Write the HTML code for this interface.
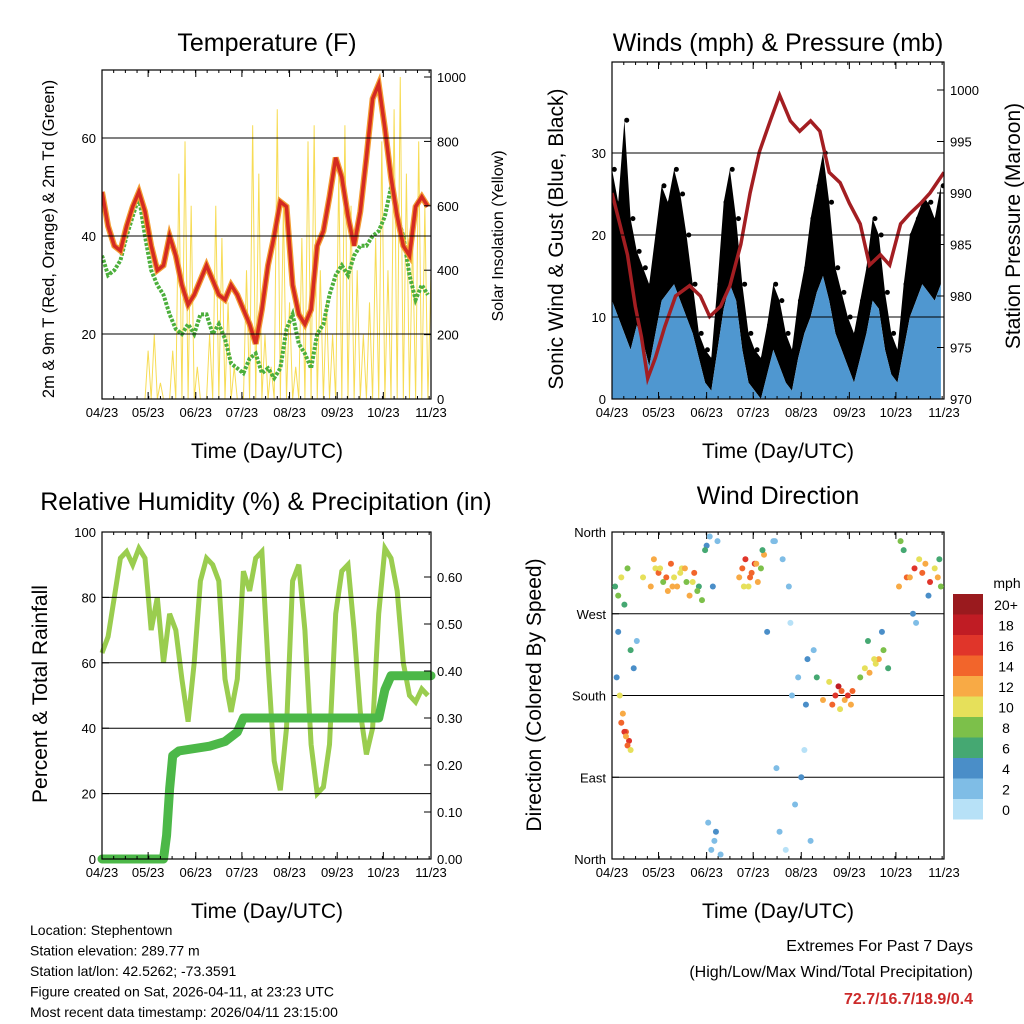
<!DOCTYPE html>
<html><head><meta charset="utf-8"><style>
body{margin:0;background:#fff;}
svg{display:block;font-family:"Liberation Sans",sans-serif;}
</style></head><body>
<svg id="s" width="1024" height="1024" viewBox="0 0 1024 1024"></svg>
<script>
// ---------- data ----------
const monthLabels=["04/23","05/23","06/23","07/23","08/23","09/23","10/23","11/23"];
const monthDays=[0,30,61,91,122,153,183,214];
const stepDays=[0,4,8,12,16,20,24,28,32,36,40,44,48,52,56,60,64,68,72,76,80,84,88,92,96,100,104,108,112,116,120,124,128,132,136,140,144,148,152,156,160,164,168,172,176,180,184,188,192,196,200,204,208,212];
const tempRed=[49,42,38,37,42,46,49,45,38,33,34,40,36,30,26,28,31,34,31,28,27,30,28,25,22,18,25,34,40,47,46,30,24,22,25,38,41,48,56,52,44,38,45,56,68,71,62,52,44,38,36,46,48,46];
const dewGreen=[36,32,33,35,40,44,48,40,33,30,28,24,21,20,22,20,24,24,20,22,19,14,13,12,15,16,12,13,11,13,21,24,18,16,13,20,22,28,32,34,32,36,38,38,40,41,44,50,44,40,32,27,30,28];
const solarPeak=[0,0,0,0,0,0,0,150,200,50,0,150,700,800,600,100,0,200,600,500,300,100,0,400,850,700,200,100,900,600,300,100,500,800,850,400,300,200,700,850,600,400,200,300,500,800,400,900,1000,700,500,800,600,400];
const presDays=[0,5,10,15,19,23,28,34,41,50,57,63,70,76,83,89,95,102,108,115,121,128,134,140,147,153,160,166,173,179,186,192,199,205,214];
const pressure=[990,987,984,979,976,972,974,977,980,981,980,978,979,981,985,990,994,997,999.5,997,996,997,996,992,991,989,987,983,984,983,987,988,989,990,992];
const windSpeed=[12,10,8,6,9,7,4,8,12,13,14,12,10,8,5,2,1,6,11,14,12,6,2,1,0,3,6,4,2,1,5,8,10,13,15,12,8,6,4,2,5,8,12,11,6,3,2,6,10,12,14,13,12,14];
const windGust=[28,24,34,22,18,16,14,20,26,24,28,25,20,14,8,6,5,14,24,28,22,14,8,6,5,9,14,12,8,6,12,16,22,26,30,24,16,13,10,8,12,16,22,20,13,8,6,14,20,22,24,24,22,26];
const rhValues=[63,68,80,92,94,90,95,92,70,80,60,75,70,55,42,60,85,92,90,85,55,45,55,88,82,92,94,60,30,21,40,85,90,70,35,20,22,35,75,88,90,70,45,32,40,75,95,92,82,60,50,48,52,50];
const rainDays=[0,40,42,44,46,50,70,80,88,92,180,184,188,214];
const rainTotal=[0,0,0.05,0.15,0.22,0.23,0.24,0.25,0.27,0.30,0.30,0.36,0.39,0.39];
const dirDays=[2,4,6,8,10,3,5,7,9,11,6,8,9,10,12,14,4,12,16,20,25,28,30,33,36,38,40,42,45,48,50,53,56,58,27,31,35,39,44,47,52,55,61,63,66,64,67,70,60,65,68,62,82,84,86,88,90,92,94,96,98,85,89,93,97,105,110,115,120,125,130,108,112,118,122,128,104,114,124,100,106,116,126,132,136,142,144,146,148,150,152,154,140,147,155,160,163,166,170,172,175,178,165,169,174,185,190,195,198,200,202,205,208,210,212,188,194,204,211,196,186,192];
const dirDeg=[300,290,310,280,320,200,180,160,140,130,150,140,135,125,120,210,250,230,240,310,300,320,315,305,295,325,310,300,320,305,290,315,300,285,330,320,310,300,315,320,305,295,345,355,20,10,30,5,340,300,350,40,310,320,330,300,315,325,305,320,335,300,310,325,340,350,330,260,200,170,230,30,10,60,90,20,350,300,120,250,100,180,220,200,175,170,180,190,185,175,180,170,195,165,185,200,210,205,215,220,230,210,240,220,250,300,310,320,330,315,325,305,320,310,300,340,270,290,330,260,350,310];
const dirSpeed=[6,8,9,6,7,4,9,11,14,15,13,16,12,14,10,3,4,5,2,9,12,10,14,8,11,13,9,12,10,7,11,13,6,8,12,10,14,11,9,12,10,8,3,2,1,2,3,1,5,4,2,1,12,14,16,10,13,15,11,8,12,9,14,11,6,1,2,0,2,3,1,1,0,2,3,1,2,1,0,4,2,1,3,5,12,14,16,18,13,11,15,12,10,9,14,8,10,12,9,11,7,6,6,10,4,12,14,16,10,13,11,15,9,12,8,6,4,3,5,2,7,11];
// ---------- helpers ----------
const S=document.getElementById('s');const NS='http://www.w3.org/2000/svg';
function mk(tag,attrs,parent){const e=document.createElementNS(NS,tag);for(const k in attrs)e.setAttribute(k,attrs[k]);(parent||S).appendChild(e);return e;}
function txt(x,y,str,size,anchor,parent,rot,fill,weight){const t=mk('text',{x:x,y:y,'font-size':size,'text-anchor':anchor||'middle',fill:fill||'#000'},parent);if(weight)t.setAttribute('font-weight',weight);if(rot)t.setAttribute('transform','rotate('+rot+' '+x+' '+y+')');t.textContent=str;return t;}
function lin(d0,d1,r0,r1){return v=>r0+(v-d0)/(d1-d0)*(r1-r0);}
function frame(g,L,T,R,B,xs){
  mk('rect',{x:L,y:T,width:R-L,height:B-T,fill:'none',stroke:'#000','stroke-width':1.2},g);
  monthDays.forEach((d,i)=>{const x=xs(d);mk('line',{x1:x,x2:x,y1:B,y2:B-7,stroke:'#000'},g);mk('line',{x1:x,x2:x,y1:T,y2:T+7,stroke:'#000'},g);
    const lb=txt(x,B+18,monthLabels[i],13,'middle',g);});
  for(let d=0;d<=214;d+=7.6){const x=xs(d);mk('line',{x1:x,x2:x,y1:B,y2:B-3,stroke:'#000'},g);mk('line',{x1:x,x2:x,y1:T,y2:T+3,stroke:'#000'},g);}
}
function yTicks(g,L,R,T,B,ys,vals,labels,side,grid,fmt){
  vals.forEach((v,i)=>{const y=ys(v);
    if(side==='left'){mk('line',{x1:L,x2:L+7,y1:y,y2:y,stroke:'#000'},g);const t=txt(L-6,y+5,labels?labels[i]:v,13,'end',g);
      if(grid&&y>T+2&&y<B-2)mk('line',{x1:L,x2:R,y1:y,y2:y,stroke:'#000','stroke-width':1},g);}
    else{mk('line',{x1:R,x2:R-7,y1:y,y2:y,stroke:'#000'},g);const t=txt(R+6,y+5,fmt?fmt(v):v,13,'start',g);}
  });
}
function poly(xa,ya,xs,ys){return xa.map((d,i)=>xs(d).toFixed(1)+','+ys(ya[i]).toFixed(1)).join(' ');}

// ---------- Panel 1: temperature ----------
(function(){
  const g=mk('g',{});
  const L=102,R=431,T=70,B=399;const xs=lin(0,214,L,R);const ys=lin(20,60,334,138);const ys2=lin(0,1000,399,77);
  const clip=mk('clipPath',{id:'c1'},g);mk('rect',{x:L,y:T,width:R-L,height:B-T},clip);
  const pg=mk('g',{'clip-path':'url(#c1)'},g);
  let d='';solarPeak.forEach((p,i)=>{const x0=xs(stepDays[i]),x1=xs(stepDays[i]+2),x2=xs(stepDays[i]+4);d+='M'+x0+','+ys2(0)+'L'+x1+','+ys2(p)+'L'+x2+','+ys2(0);});
  const sol=mk('path',{d:d,fill:'none',stroke:'#f7dc55','stroke-width':1},pg);
  const gr=mk('polyline',{points:poly(stepDays,dewGreen,xs,ys),fill:'none',stroke:'#4caf3c','stroke-width':4,'stroke-dasharray':'3,1.5'},pg);
  const or=mk('polyline',{points:poly(stepDays,tempRed,xs,ys),fill:'none',stroke:'#f39c33','stroke-width':6},pg);
  const rd=mk('polyline',{points:poly(stepDays,tempRed,xs,ys),fill:'none',stroke:'#d42a22','stroke-width':3.5},pg);
  frame(g,L,T,R,B,xs);
  yTicks(g,L,R,T,B,ys,[20,40,60],null,'left',true);
  yTicks(g,L,R,T,B,ys2,[0,200,400,600,800,1000],null,'right');
  const t=txt(267,51,'Temperature (F)',25,'middle',g);
  const a=txt(54,239,'2m & 9m T (Red, Orange) & 2m Td (Green)',16.5,'middle',g,-90);
  const b=txt(503,236,'Solar Insolation (Yellow)',16,'middle',g,-90);
  const c=txt(267,458,'Time (Day/UTC)',21,'middle',g);
})();

// ---------- Panel 2: winds ----------
(function(){
  const g=mk('g',{});
  const L=612,R=944,T=62,B=399;const xs=lin(0,214,L,R);const ys=lin(0,30,399,153);const ys2=lin(970,1000,399,90);
  const clip=mk('clipPath',{id:'c2'},g);mk('rect',{x:L,y:T,width:R-L,height:B-T},clip);
  const pg=mk('g',{'clip-path':'url(#c2)'},g);
  const gp=poly(stepDays,windGust,xs,ys)+' '+stepDays.slice().reverse().map((d,i)=>xs(d)+','+ys(windSpeed[windSpeed.length-1-i])).join(' ');
  const gb=mk('polygon',{points:gp,fill:'#000'},pg);
  stepDays.forEach((d,i)=>{const c=mk('circle',{cx:xs(d+1.5),cy:ys(windGust[i]),r:2.5,fill:'#000'},pg);});
  const bp=xs(0)+','+ys(0)+' '+poly(stepDays,windSpeed,xs,ys)+' '+xs(212)+','+ys(0);
  const ba=mk('polygon',{points:bp,fill:'#4f97d0'},pg);
  const pl=mk('polyline',{points:poly(presDays,pressure,xs,ys2),fill:'none',stroke:'#a31e22','stroke-width':3.5},pg);
  frame(g,L,T,R,B,xs);
  yTicks(g,L,R,T,B,ys,[0,10,20,30],null,'left',true);
  yTicks(g,L,R,T,B,ys2,[970,975,980,985,990,995,1000],null,'right');
  const t=txt(778,51,'Winds (mph) & Pressure (mb)',25,'middle',g);
  const a=txt(563,239,'Sonic Wind & Gust (Blue, Black)',21,'middle',g,-90);
  const b=txt(1020,226,'Station Pressure (Maroon)',21,'middle',g,-90);
  const c=txt(778,458,'Time (Day/UTC)',21,'middle',g);
})();

// ---------- Panel 3: RH ----------
(function(){
  const g=mk('g',{});
  const L=102,R=431,T=532,B=859;const xs=lin(0,214,L,R);const ys=lin(0,100,859,532);const ys2=lin(0,0.6,859,577);
  const clip=mk('clipPath',{id:'c3'},g);mk('rect',{x:L-6,y:T,width:R-L+12,height:B-T+6},clip);
  const pg=mk('g',{'clip-path':'url(#c3)'},g);
  const rh=mk('polyline',{points:poly(stepDays,rhValues,xs,ys),fill:'none',stroke:'#9acd4f','stroke-width':5},pg);
  let pts=[];rainDays.forEach((d,i)=>{pts.push(xs(d)+','+ys2(rainTotal[i]));});
  const rl=mk('polyline',{points:pts.join(' '),fill:'none',stroke:'#4cb848','stroke-width':9,'stroke-linejoin':'round','stroke-linecap':'round'},pg);
  frame(g,L,T,R,B,xs);
  yTicks(g,L,R,T,B,ys,[0,20,40,60,80,100],null,'left',true);
  yTicks(g,L,R,T,B,ys2,[0,0.1,0.2,0.3,0.4,0.5,0.6],null,'right',false,v=>v.toFixed(2));
  const t=txt(266,510,'Relative Humidity (%) & Precipitation (in)',25,'middle',g);
  const a=txt(47,694,'Percent & Total Rainfall',21,'middle',g,-90);
  const c=txt(267,918,'Time (Day/UTC)',21,'middle',g);
})();

// ---------- Panel 4: wind direction ----------
const speedColors=['#b7e1f7','#7fbde6','#4a8ec8','#45a872','#7cc04a','#e6e05a','#f8aa45','#f2652b','#e0352a','#c01c24','#9a1a1e'];
const speedLabels=['0','2','4','6','8','10','12','14','16','18','20+'];
(function(){
  const g=mk('g',{});
  const L=612,R=944,T=532,B=859;const xs=lin(0,214,L,R);const ys=lin(0,360,859,532);
  frame(g,L,T,R,B,xs);
  yTicks(g,L,R,T,B,ys,[0,90,180,270,360],['North','East','South','West','North'],'left',true);
  const clip=mk('clipPath',{id:'c4'},g);mk('rect',{x:L,y:T-4,width:R-L,height:B-T+8},clip);
  const pg=mk('g',{'clip-path':'url(#c4)'},g);
  dirDays.forEach((d,i)=>{const bin=Math.min(10,Math.round(dirSpeed[i]/2));
    const c=mk('circle',{cx:xs(d),cy:ys(dirDeg[i]),r:3,fill:speedColors[bin]},pg);});
  const t=txt(778,504,'Wind Direction',25,'middle',g);
  const a=txt(541,695,'Direction (Colored By Speed)',21,'middle',g,-90);
  const c=txt(778,918,'Time (Day/UTC)',21,'middle',g);
  const cb=mk('g',{},g);
  txt(1007,588,'mph',14,'middle',cb);
  for(let i=0;i<11;i++){const y=594+(10-i)*20.5;const r=mk('rect',{x:953,y:y,width:30,height:20.5,fill:speedColors[i]},cb);
    const l=txt(1006,y+16,speedLabels[i],14,'middle',cb);}
})();

// ---------- footer ----------
(function(){
  const g=mk('g',{});
  ['Location: Stephentown','Station elevation: 289.77 m','Station lat/lon: 42.5262; -73.3591','Figure created on Sat, 2026-04-11, at 23:23 UTC','Most recent data timestamp: 2026/04/11 23:15:00'].forEach((s,i)=>{txt(30,935+i*20.5,s,14,'start',g);});
  const e=mk('g',{});
  txt(973,951,'Extremes For Past 7 Days',16,'end',e);
  txt(973,977,'(High/Low/Max Wind/Total Precipitation)',16,'end',e);
  txt(973,1004,'72.7/16.7/18.9/0.4',16,'end',e,null,'#cc2a2a','bold');
})();
</script>
</body></html>
